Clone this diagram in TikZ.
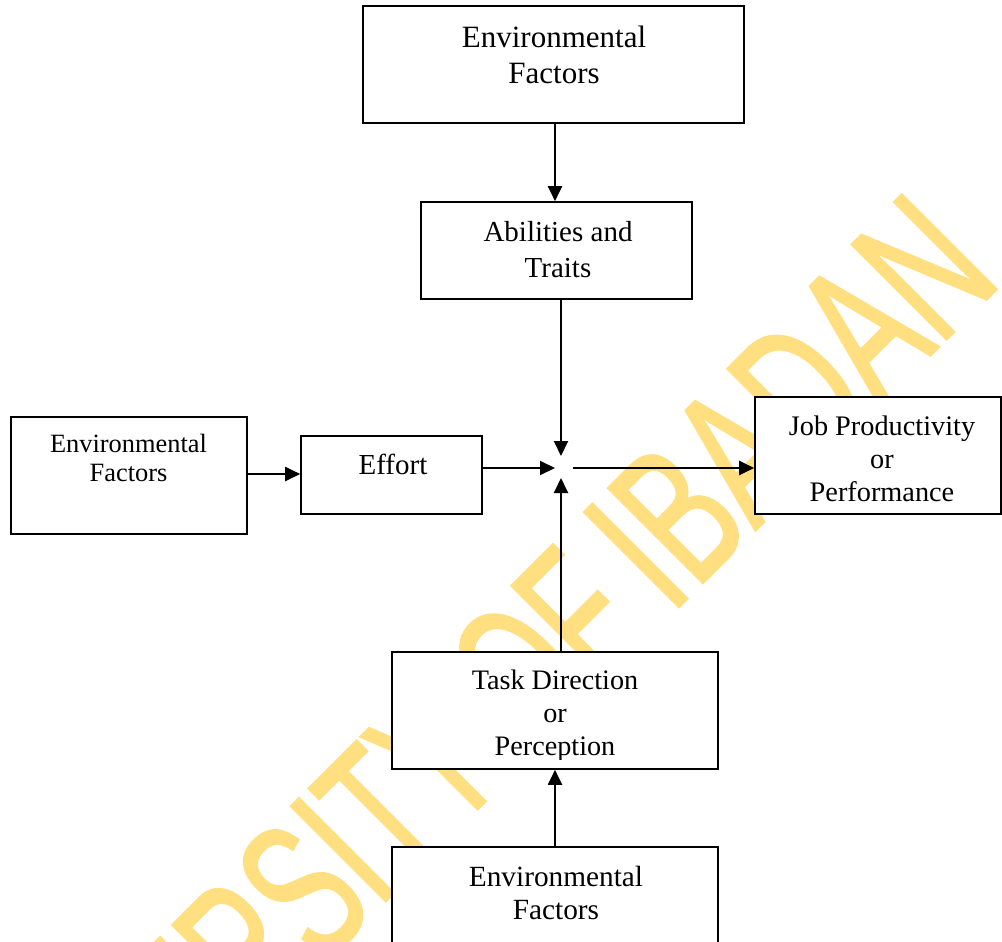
\documentclass[tikz,border=0pt]{standalone}
\usepackage{fontspec}
\setmainfont{Liberation Serif}
\newfontfamily\wmfontA[FakeStretch=0.615,FakeBold=1.2]{Liberation Sans}
\newfontfamily\wmfontB[FakeStretch=0.649,FakeBold=1.2]{Liberation Sans}
\usetikzlibrary{arrows.meta}
\definecolor{wmyellow}{RGB}{255,223,128}
% centred block of lines whose baseline is that of the first line
\newcommand\boxlines[1]{\begin{tabular}[t]{@{}c@{}}#1\end{tabular}}

\tikzset{
  box/.style={draw=black, line width=1.6pt, fill=white, inner sep=0pt},
  lbl/.style={anchor=base, inner sep=0pt},
  arr/.style={line width=2pt, -{Triangle[length=15pt,width=14pt]}},
  wmark/.style={text=wmyellow, inner sep=0pt, rotate=45, anchor=base west}
}

\begin{document}
\begin{tikzpicture}[x=1pt,y=-1pt]
\useasboundingbox (0,0) rectangle (1002,942);

% watermark behind everything
\node[wmark, font=\wmfontA\fontsize{195}{195}\selectfont] (wm1) at (1,1286) {UNIVERSITY OF};
\node[wmark, font=\wmfontB\fontsize{195}{195}\selectfont] (wm2) at (670.6,615.4) {IBADAN};

% boxes
\node[box, minimum width=381pt, minimum height=117pt] (env1)   at (553.5,64.5) {};
\node[box, minimum width=271pt, minimum height=97pt]  (abil)   at (556.5,250.5) {};
\node[box, minimum width=236pt, minimum height=117pt] (envL)   at (129,475.5) {};
\node[box, minimum width=181pt, minimum height=78pt]  (effort) at (391.5,475) {};
\node[box, minimum width=246pt, minimum height=117pt] (job)    at (878,455.5) {};
\node[box, minimum width=326pt, minimum height=117pt] (task)   at (555,710.5) {};
\node[box, minimum width=326pt, minimum height=117pt] (envB)   at (555,905.5) {};

% labels
\node[lbl, font=\fontsize{31}{36}\selectfont]   (env1t)   at (554,48)  {\boxlines{Environmental\\Factors}};
\node[lbl, font=\fontsize{29}{36}\selectfont]   (abilt)   at (558,241) {\boxlines{Abilities and\\Traits}};
\node[lbl, font=\fontsize{26.4}{29}\selectfont] (envLt)   at (128.5,452) {\boxlines{Environmental\\Factors}};
\node[lbl, font=\fontsize{29}{33}\selectfont]   (effortt) at (393,474) {Effort};
\node[lbl, font=\fontsize{28.3}{33}\selectfont] (jobt)    at (882,435) {\boxlines{Job Productivity\\or\\Performance}};
\begin{scope}
  \clip (task.north west) rectangle ([yshift=10pt]task.south east);
  \node[lbl, font=\fontsize{28.2}{33}\selectfont] (taskt) at (555,689) {\boxlines{Task Direction\\or\\Perception}};
\end{scope}
\node[lbl, font=\fontsize{29.3}{33}\selectfont] (envBt)   at (556,886) {\boxlines{Environmental\\Factors}};

% connectors
\coordinate (j)  at (561,468);
\coordinate (ax) at (555,0);
\coordinate (ly) at (0,474);
\draw[arr] (env1.south -| ax) -- (abil.north -| ax);
\draw[arr, shorten >=12pt] (abil.south -| j) -- (j);
\draw[arr, shorten >=10pt] (task.north -| j) -- (j);
\draw[arr, shorten >=6pt] (effort.east |- j) -- (j);
\draw[arr, shorten <=12pt] (j) -- (job.west |- j);
\draw[arr] (envL.east |- ly) -- (effort.west |- ly);
\draw[arr] (envB.north -| ax) -- (task.south -| ax);
\end{tikzpicture}
\end{document}
